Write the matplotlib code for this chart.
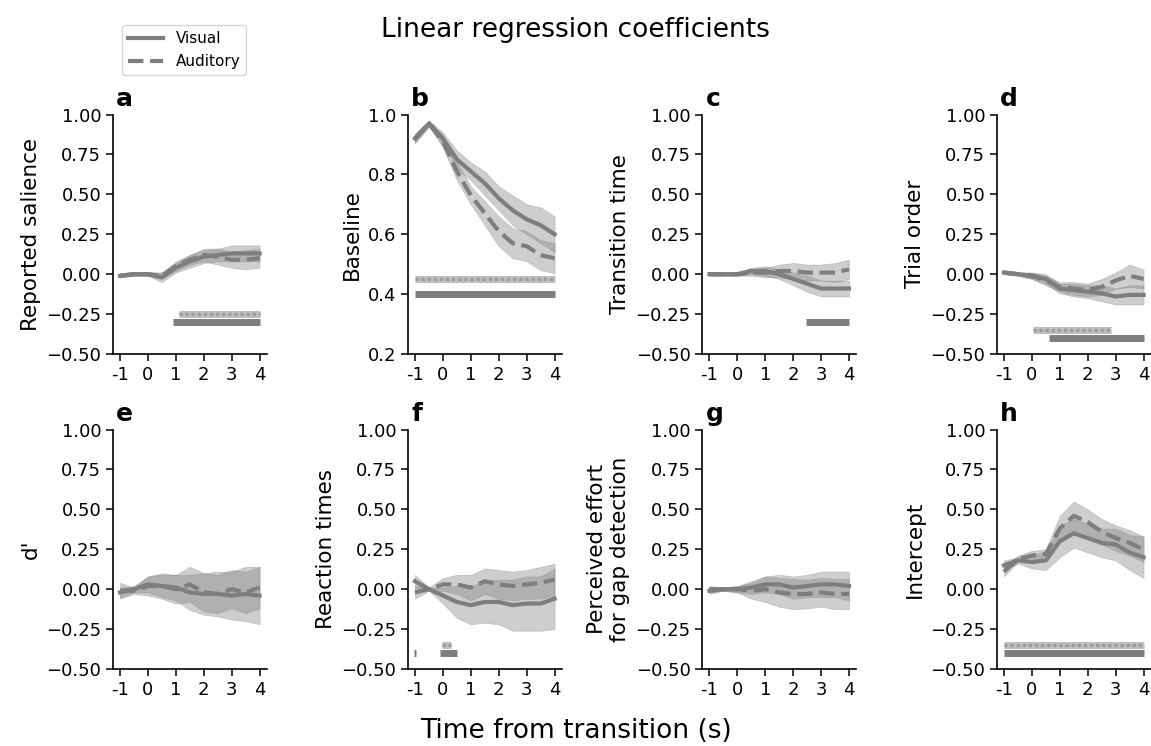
import matplotlib
matplotlib.use('Agg')
import matplotlib.pyplot as plt
import numpy as np

# time axis (s from transition)
t = [-1, -0.5, 0, 0.5, 1, 1.5, 2, 2.5, 3, 3.5, 4]
panels = ['a', 'b', 'c', 'd', 'e', 'f', 'g', 'h']
ylabels = ['Reported salience', 'Baseline', 'Transition time', 'Trial order',
           "d'", 'Reaction times', 'Perceived effort\nfor gap detection', 'Intercept']

vis_mean = {
    'a': [-0.01, 0.00, 0.00, -0.02, 0.04, 0.08, 0.11, 0.12, 0.13, 0.13, 0.13],
    'b': [0.92, 0.97, 0.92, 0.85, 0.81, 0.77, 0.72, 0.68, 0.65, 0.63, 0.60],
    'c': [0.00, 0.00, 0.00, 0.02, 0.02, 0.00, -0.03, -0.06, -0.09, -0.09, -0.09],
    'd': [0.01, 0.00, -0.01, -0.03, -0.09, -0.10, -0.11, -0.12, -0.14, -0.13, -0.13],
    'e': [-0.02, 0.00, 0.03, 0.02, 0.01, -0.02, -0.03, -0.03, -0.04, -0.03, -0.04],
    'f': [0.05, 0.00, -0.04, -0.08, -0.10, -0.08, -0.08, -0.10, -0.09, -0.09, -0.06],
    'g': [-0.01, 0.00, 0.00, 0.01, 0.03, 0.03, 0.01, 0.02, 0.03, 0.03, 0.02],
    'h': [0.15, 0.18, 0.17, 0.18, 0.30, 0.35, 0.32, 0.29, 0.28, 0.23, 0.20],
}
vis_err = {
    'a': [0.01, 0.01, 0.01, 0.03, 0.03, 0.04, 0.04, 0.04, 0.05, 0.05, 0.05],
    'b': [0.015, 0.01, 0.02, 0.03, 0.03, 0.04, 0.04, 0.05, 0.05, 0.06, 0.06],
    'c': [0.01, 0.01, 0.01, 0.02, 0.03, 0.03, 0.04, 0.05, 0.05, 0.05, 0.05],
    'd': [0.01, 0.01, 0.02, 0.03, 0.03, 0.04, 0.04, 0.05, 0.05, 0.06, 0.06],
    'e': [0.03, 0.02, 0.05, 0.07, 0.08, 0.11, 0.13, 0.14, 0.15, 0.17, 0.18],
    'f': [0.04, 0.01, 0.05, 0.10, 0.12, 0.13, 0.14, 0.16, 0.17, 0.17, 0.19],
    'g': [0.02, 0.01, 0.02, 0.04, 0.05, 0.06, 0.07, 0.07, 0.08, 0.08, 0.09],
    'h': [0.03, 0.02, 0.04, 0.06, 0.10, 0.09, 0.09, 0.09, 0.10, 0.11, 0.13],
}
aud_mean = {
    'a': [-0.01, 0.00, 0.00, -0.01, 0.05, 0.09, 0.12, 0.11, 0.09, 0.09, 0.10],
    'b': [0.92, 0.97, 0.91, 0.81, 0.73, 0.67, 0.61, 0.57, 0.56, 0.53, 0.52],
    'c': [0.00, 0.00, 0.00, 0.01, 0.01, 0.02, 0.02, 0.01, 0.01, 0.01, 0.03],
    'd': [0.01, 0.00, -0.01, -0.04, -0.08, -0.09, -0.10, -0.08, -0.04, -0.01, -0.03],
    'e': [-0.01, -0.01, 0.02, 0.02, 0.00, 0.03, -0.02, -0.03, 0.00, -0.02, 0.01],
    'f': [-0.02, 0.00, 0.03, 0.03, 0.01, 0.05, 0.03, 0.02, 0.03, 0.04, 0.06],
    'g': [0.00, 0.00, 0.00, -0.01, 0.00, -0.02, -0.03, -0.03, -0.02, -0.03, -0.03],
    'h': [0.11, 0.19, 0.21, 0.22, 0.38, 0.46, 0.42, 0.36, 0.32, 0.29, 0.25],
}
aud_err = {
    'a': [0.01, 0.01, 0.01, 0.02, 0.03, 0.03, 0.04, 0.05, 0.05, 0.06, 0.06],
    'b': [0.015, 0.01, 0.02, 0.03, 0.03, 0.04, 0.05, 0.05, 0.05, 0.05, 0.05],
    'c': [0.01, 0.01, 0.01, 0.02, 0.03, 0.04, 0.05, 0.05, 0.05, 0.06, 0.06],
    'd': [0.01, 0.01, 0.02, 0.03, 0.03, 0.04, 0.04, 0.05, 0.05, 0.07, 0.06],
    'e': [0.05, 0.02, 0.06, 0.08, 0.09, 0.11, 0.12, 0.12, 0.12, 0.13, 0.13],
    'f': [0.04, 0.01, 0.04, 0.06, 0.08, 0.08, 0.09, 0.09, 0.09, 0.10, 0.10],
    'g': [0.02, 0.01, 0.02, 0.05, 0.08, 0.09, 0.095, 0.09, 0.09, 0.095, 0.095],
    'h': [0.03, 0.02, 0.03, 0.03, 0.08, 0.09, 0.08, 0.08, 0.08, 0.08, 0.08],
}

# significance bars: list of (start, end) and their height
vis_sig = {'a': [(0.9, 4)], 'b': [(-1, 4)], 'c': [(2.45, 4)], 'd': [(0.6, 4)],
           'e': [], 'f': [(-1.05, -0.95), (-0.1, 0.5)], 'g': [], 'h': [(-1, 4)]}
aud_sig = {'a': [(1.1, 4)], 'b': [(-1, 4)], 'c': [], 'd': [(0.05, 2.85)],
           'e': [], 'f': [(-0.05, 0.3)], 'g': [], 'h': [(-1, 4)]}
vis_sig_y = {'a': -0.30, 'b': 0.40, 'c': -0.30, 'd': -0.40, 'e': -0.40, 'f': -0.40, 'g': -0.40, 'h': -0.40}
aud_sig_y = {'a': -0.25, 'b': 0.45, 'c': -0.25, 'd': -0.35, 'e': -0.35, 'f': -0.35, 'g': -0.35, 'h': -0.35}

line_col = '#7e7e7e'
fill_col = 'grey'

fig = plt.figure(figsize=(11.51, 7.46), dpi=100)
lefts = [0.0982, 0.3545, 0.6103, 0.8662]
bottoms = [0.5255, 0.1032]
w, h = 0.1334, 0.321

for i, p in enumerate(panels):
    ax = fig.add_axes([lefts[i % 4], bottoms[i // 4], w, h])
    x = np.array(t)
    vm, ve = np.array(vis_mean[p]), np.array(vis_err[p])
    am, ae = np.array(aud_mean[p]), np.array(aud_err[p])
    ax.fill_between(x, vm - ve, vm + ve, color=fill_col, alpha=0.38, lw=0.5)
    ax.fill_between(x, am - ae, am + ae, color=fill_col, alpha=0.38, lw=0.5)
    l1, = ax.plot(x, vm, '-', color=line_col, lw=3, label='Visual')
    l2, = ax.plot(x, am, '--', color=line_col, lw=3, label='Auditory')
    for s, e in vis_sig[p]:
        ax.plot([s, e], [vis_sig_y[p]] * 2, color=line_col, lw=5, solid_capstyle='butt')
    for s, e in aud_sig[p]:
        ax.plot([s, e], [aud_sig_y[p]] * 2, color='#bdbdbd', lw=5, solid_capstyle='butt')
        ax.plot([s, e], [aud_sig_y[p]] * 2, color='#9a9a9a', lw=2.2, ls=(0, (1, 1)))

    ax.set_xlim(-1.25, 4.25)
    ax.set_xticks(range(-1, 5))
    ax.set_xticklabels(['-1', '0', '1', '2', '3', '4'])
    if p == 'b':
        ax.set_ylim(0.2, 1.0)
        ax.set_yticks([0.2, 0.4, 0.6, 0.8, 1.0])
    else:
        ax.set_ylim(-0.5, 1.0)
        ax.set_yticks([-0.5, -0.25, 0, 0.25, 0.5, 0.75, 1.0])
    ax.spines['top'].set_visible(False)
    ax.spines['right'].set_visible(False)
    for sp in ['left', 'bottom']:
        ax.spines[sp].set_linewidth(1.2)
    ax.tick_params(labelsize=13, length=5, width=1.1)
    ax.set_ylabel(ylabels[i], fontsize=15.5)
    ax.text(0.02, 1.015, p, transform=ax.transAxes, fontsize=18, fontweight='bold',
            va='bottom', ha='left')

fig.legend([l1, l2], ['Visual', 'Auditory'], loc='upper left', bbox_to_anchor=(0.106, 0.966),
           borderaxespad=0, fontsize=11, handlelength=2.3)
fig.suptitle('Linear regression coefficients', fontsize=19, y=0.977)
fig.supxlabel('Time from transition (s)', fontsize=19, y=0.003)

fig.savefig('out.png', dpi=100)
